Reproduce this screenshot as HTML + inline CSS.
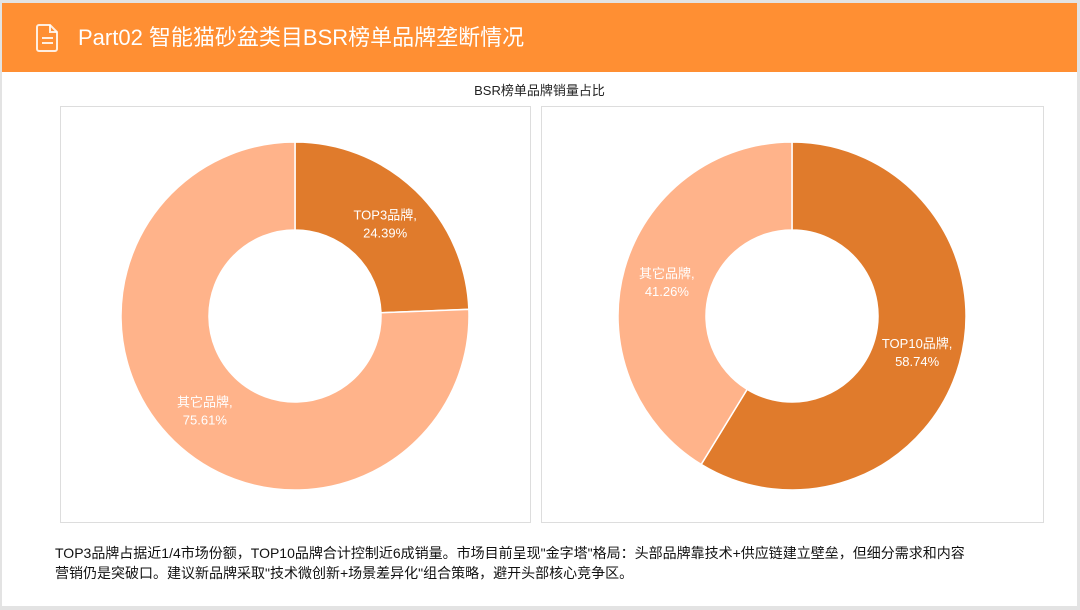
<!DOCTYPE html>
<html><head><meta charset="utf-8">
<style>
body{margin:0;width:1080px;height:610px;background:#e3e3e3;overflow:hidden;font-family:"Liberation Sans","Noto Sans CJK SC",sans-serif;}
#page{position:absolute;left:2px;top:3px;width:1075px;height:603px;background:#fff;}
#hdr{position:absolute;left:0;top:0;width:1075px;height:69px;background:#FF8F33;}
#hdr .t{position:absolute;left:76px;top:18px;color:#fff;font-size:22px;line-height:34px;}
.box{position:absolute;top:103px;height:417px;border:1px solid #ddd;box-sizing:border-box;}
#ctitle{position:absolute;left:0;width:1075px;top:77px;text-align:center;font-size:13px;color:#222;}
#desc{position:absolute;left:53px;top:540px;font-size:14px;line-height:20px;color:#111;width:915px;}
svg{position:absolute;left:0;top:0;}
</style></head><body>
<div id="page">
<div id="hdr">
<svg width="40" height="69" style="left:30px">
<path d="M7 22 h11 l7 7 v17 a2 2 0 0 1 -2 2 h-16 a2 2 0 0 1 -2 -2 v-22 a2 2 0 0 1 2 -2z" fill="none" stroke="#fff" stroke-width="2" opacity="0.85"/>
<path d="M18 22 v7 h7" fill="none" stroke="#fff" stroke-width="2" opacity="0.85"/>
<line x1="10" y1="35" x2="21" y2="35" stroke="#fff" stroke-width="2" opacity="0.85"/>
<line x1="10" y1="40" x2="21" y2="40" stroke="#fff" stroke-width="2" opacity="0.85"/>
</svg>
<div class="t">Part02 智能猫砂盆类目BSR榜单品牌垄断情况</div>
</div>
<div id="ctitle">BSR榜单品牌销量占比</div>
<div class="box" style="left:58px;width:471px"></div>
<div class="box" style="left:539px;width:503px"></div>
<svg id="charts" width="1075" height="603"></svg>
<div id="desc">TOP3品牌占据近1/4市场份额，TOP10品牌合计控制近6成销量。市场目前呈现"金字塔"格局：头部品牌靠技术+供应链建立壁垒，但细分需求和内容营销仍是突破口。建议新品牌采取"技术微创新+场景差异化"组合策略，避开头部核心竞争区。</div>
</div>
<script>
const leftLabels=["TOP3品牌","其它品牌"];
const leftValues=[24.39,75.61];
const rightLabels=["TOP10品牌","其它品牌"];
const rightValues=[58.74,41.26];
const colors=["#E07B2C","#FFB38A"];
const svg=document.getElementById('charts');
const NS="http://www.w3.org/2000/svg";
function donut(cx,cy,R,r,labels,values,key){
  const tot=values.reduce((a,b)=>a+b,0);
  let a0=-Math.PI/2;
  values.forEach((v,i)=>{
    const a1=a0+v/tot*2*Math.PI;
    const large=(a1-a0)>Math.PI?1:0;
    const p=(rad,a)=>[cx+rad*Math.cos(a),cy+rad*Math.sin(a)];
    const [x0,y0]=p(R,a0),[x1,y1]=p(R,a1),[x2,y2]=p(r,a1),[x3,y3]=p(r,a0);
    const path=document.createElementNS(NS,'path');
    path.setAttribute('d',`M${x0} ${y0}A${R} ${R} 0 ${large} 1 ${x1} ${y1}L${x2} ${y2}A${r} ${r} 0 ${large} 0 ${x3} ${y3}Z`);
    path.setAttribute('fill',colors[i]);path.setAttribute('stroke','#fff');path.setAttribute('stroke-width','1.5');
    
    
    svg.appendChild(path);
    const am=(a0+a1)/2,[lx,ly]=p((R+r)/2,am);
    const t=document.createElementNS(NS,'text');
    t.setAttribute('x',lx);t.setAttribute('y',ly-3);t.setAttribute('text-anchor','middle');
    t.setAttribute('font-size','13');t.setAttribute('fill','#fff');
    
    
    const s1=document.createElementNS(NS,'tspan');s1.setAttribute('x',lx);s1.textContent=labels[i]+',';
    const s2=document.createElementNS(NS,'tspan');s2.setAttribute('x',lx);s2.setAttribute('dy','18');s2.textContent=v.toFixed(2)+'%';
    t.appendChild(s1);t.appendChild(s2);svg.appendChild(t);
    a0=a1;
  });
}
donut(293,313,174,86,leftLabels,leftValues,'left');
donut(790,313,174,86,rightLabels,rightValues,'right');
</script>
</body></html>
